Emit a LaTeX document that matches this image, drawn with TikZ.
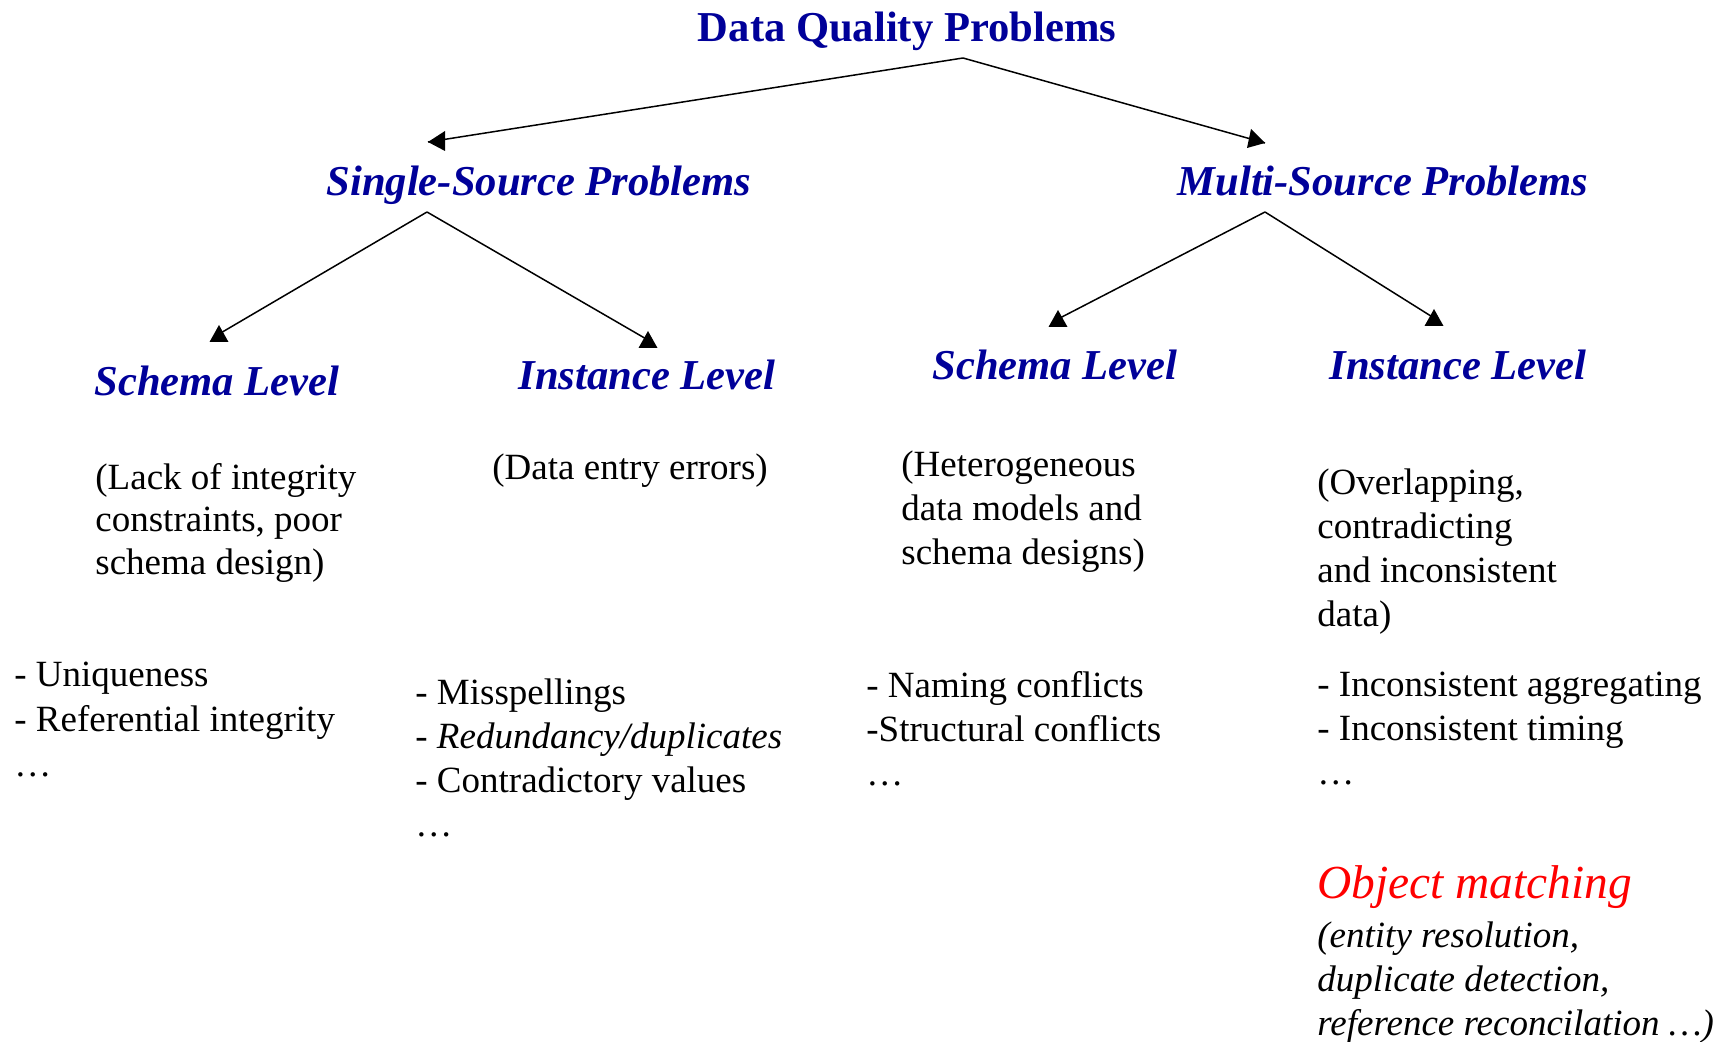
\documentclass[tikz,border=0pt]{standalone}
\usepackage{fontspec}
\setmainfont{Liberation Serif}
\definecolor{headblue}{RGB}{0,0,153}

\begin{document}
\begin{tikzpicture}[x = 0.5pt, y = -0.5pt,
    head/.style = {headblue, font = \fontsize{21.3}{25}\selectfont\bfseries\itshape, inner sep = 0, anchor = base},
    body/.style = {font = \fontsize{18.5}{22}\selectfont, inner sep = 0, anchor = north west, align = left},
    branch/.style = {line width = .75pt}]

    \useasboundingbox (0,0) rectangle (1729,1042);

    \node [head, font = \fontsize{21.3}{25}\selectfont\bfseries] (dqp) at (907, 42) {Data Quality Problems};
    \node [head] (single) at (539, 196) {Single-Source Problems};
    \node [head] (multi) at (1383, 196) {Multi-Source Problems};
    \node [head] (ss-schema) at (217, 396) {Schema Level};
    \node [head] (ss-inst) at (647, 390) {Instance Level};
    \node [head] (ms-schema) at (1055, 380) {Schema Level};
    \node [head] (ms-inst) at (1458, 380) {Instance Level};

    \node [body, font = \fontsize{18.5}{21.25}\selectfont] (ss-schema-why) at (95, 463) {(Lack of integrity\\constraints, poor\\schema design)};
    \node [body] (ss-inst-why) at (492, 453) {(Data entry errors)};
    \node [body] (ms-schema-why) at (901, 450) {(Heterogeneous\\data models and\\schema designs)};
    \node [body] (ms-inst-why) at (1317, 468) {(Overlapping,\\contradicting\\and inconsistent\\data)};

    \node [body, font = \fontsize{18.5}{22.5}\selectfont] (ss-schema-ex) at (14, 662) {- Uniqueness\\- Referential integrity\\…};
    \node [body] (ss-inst-ex) at (415, 678) {- Misspellings\\- \textit{Redundancy/duplicates}\\- Contradictory values\\…};
    \node [body] (ms-schema-ex) at (866, 671) {- Naming conflicts\\-Structural conflicts\\…};
    \node [body] (ms-inst-ex) at (1317, 672) {- Inconsistent aggregating\\- Inconsistent timing\\…};

    \node [body, red, font = \fontsize{23.7}{28}\selectfont\itshape] (om) at (1317, 865) {Object matching};
    \node [body, font = \fontsize{18.5}{22}\selectfont\itshape] (om-why) at (1317, 921) {(entity resolution,\\duplicate detection,\\reference reconcilation …)};

    \coordinate (dqp-fork) at (963, 58);
    \coordinate (single-fork) at (427, 212);
    \coordinate (multi-fork) at (1265, 212);
    \coordinate (single-in) at (428, 142);
    \coordinate (multi-in) at (1265, 143);
    \coordinate (ss-schema-in) at (219, 334);
    \coordinate (ss-inst-in) at (648, 340);
    \coordinate (ms-schema-in) at (1058, 319);
    \coordinate (ms-inst-in) at (1434, 318);

    \foreach \from/\to in {dqp-fork/single-in, dqp-fork/multi-in, single-fork/ss-schema-in, single-fork/ss-inst-in, multi-fork/ms-schema-in, multi-fork/ms-inst-in} {
      \draw [branch] (\from) -- (\to);
    }

    % heads: the top two lie on their side, the lower four stand upright
    \fill ([shift = {(17, -11)}]single-in) -- (single-in) -- ([shift = {(17, 9)}]single-in) -- cycle;
    \fill ([shift = {(-14, -14)}]multi-in) -- (multi-in) -- ([shift = {(-18, 5)}]multi-in) -- cycle;
    \foreach \p in {ss-schema-in, ss-inst-in, ms-schema-in, ms-inst-in} {
      \fill ([shift = {(0, -9)}]\p) -- ([shift = {(9.5, 8)}]\p) -- ([shift = {(-9.5, 8)}]\p) -- cycle;
    }
\end{tikzpicture}
\end{document}
